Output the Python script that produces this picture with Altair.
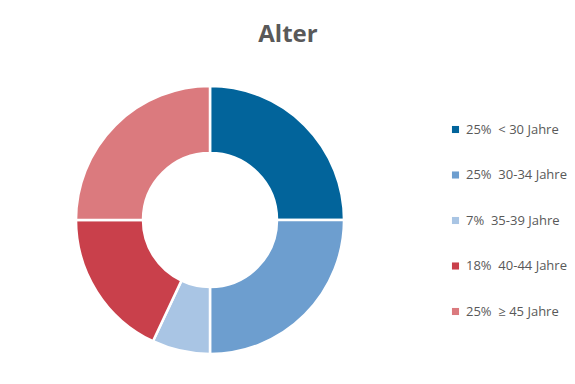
import altair as alt
import pandas as pd

labels = ["25%\u00a0\u00a0< 30 Jahre", "25%\u00a0\u00a030-34 Jahre", "7%\u00a0\u00a035-39 Jahre", "18%\u00a0\u00a040-44 Jahre", "25%\u00a0\u00a0≥ 45 Jahre"]
values = [25, 25, 7, 18, 25]
colors = ["#02649b", "#6d9ecf", "#a9c5e4", "#c9404b", "#db7a7e"]

df = pd.DataFrame({"label": labels, "value": values, "idx": list(range(len(labels)))})

donut = alt.Chart(df).mark_arc(
    outerRadius=134, innerRadius=67, stroke="white", strokeWidth=2.5
).encode(
    theta=alt.Theta("value:Q", stack=True),
    order=alt.Order("idx:O"),
    x=alt.value(202),
    y=alt.value(212),
    color=alt.Color(
        "label:N",
        sort=labels,
        scale=alt.Scale(domain=labels, range=colors),
        legend=alt.Legend(
            title=None,
            orient="none",
            legendX=441,
            legendY=115,
            symbolType="square",
            symbolSize=50,
            symbolStrokeWidth=0,
            labelFont="Open Sans",
            labelFontSize=13,
            labelColor="#595959",
            labelLimit=300,
            labelOffset=4,
            rowPadding=31.5,
        ),
    ),
)

title = alt.Chart(pd.DataFrame({"t": ["Alter"]})).mark_text(
    font="Open Sans", fontSize=24, fontWeight="bold", color="#595959", align="center", baseline="alphabetic"
).encode(text="t:N", x=alt.value(280), y=alt.value(34))

chart = alt.layer(donut, title).properties(
    width=559, height=368, padding=0, autosize=alt.AutoSizeParams(type="none")
).configure_view(stroke=None)

chart.save("out.html", embed_options={"renderer": "svg", "actions": False})
